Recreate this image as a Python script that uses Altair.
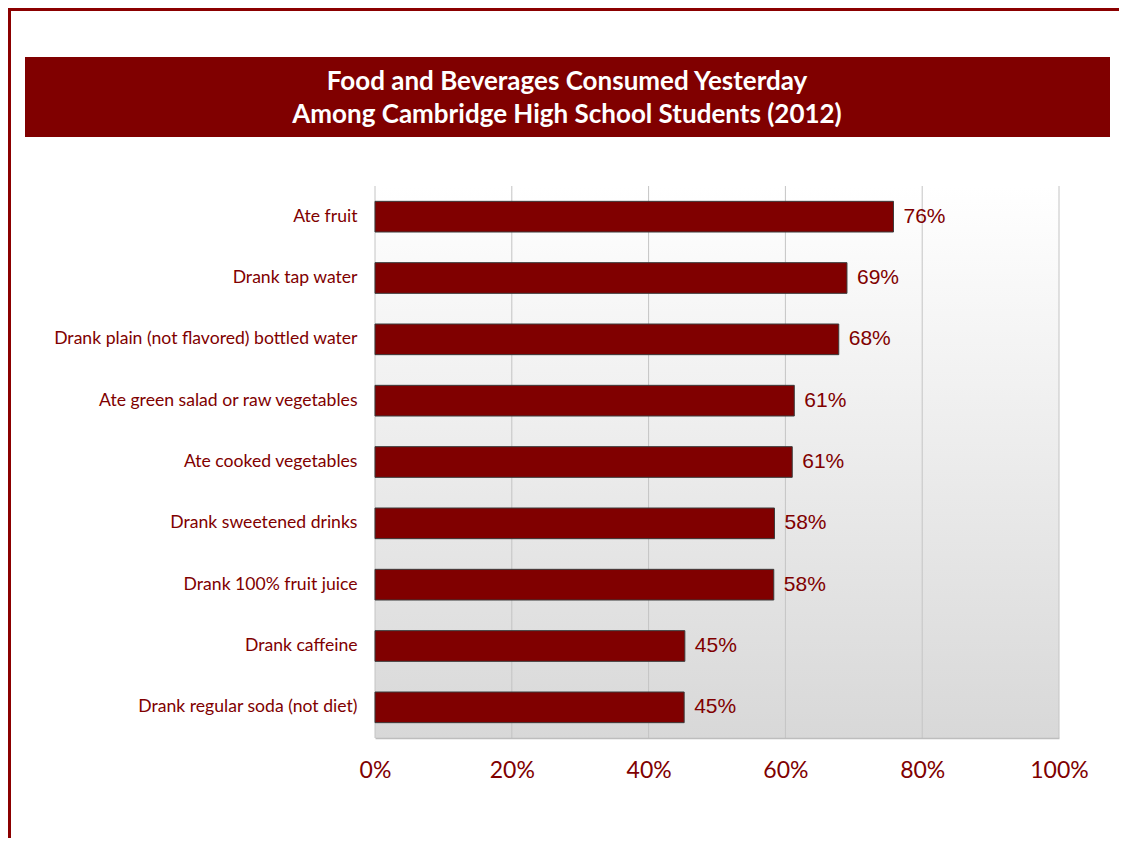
import altair as alt
import pandas as pd

categories = [
    "Ate fruit",
    "Drank tap water",
    "Drank plain (not flavored) bottled water",
    "Ate green salad or raw vegetables",
    "Ate cooked vegetables",
    "Drank sweetened drinks",
    "Drank 100% fruit juice",
    "Drank caffeine",
    "Drank regular soda (not diet)",
]
values = [75.8, 69.0, 67.8, 61.3, 61.0, 58.4, 58.3, 45.3, 45.2]
x_ticks = [0, 20, 40, 60, 80, 100]
title_lines = [
    "Food and Beverages Consumed Yesterday",
    "Among Cambridge High School Students (2012)",
]

W, H = 684, 552
DARK = "#800000"

df = pd.DataFrame({"category": categories, "value": values})
ticks_df = pd.DataFrame({"value": x_ticks})
one = pd.DataFrame({"k": [0]})

xscale = alt.Scale(domain=[0, 100], nice=False)
yscale = alt.Scale(paddingInner=0.5, paddingOuter=0.25)

xaxis = alt.Axis(
    values=x_ticks,
    labelExpr="datum.value + '%'",
    title=None,
    grid=False,
    ticks=False,
    domain=True,
    domainColor="#BDBDBD",
    domainWidth=1.5,
    labelFont="Lato",
    labelFontSize=23,
    labelColor=DARK,
    labelPadding=21,
    labelFlush=False,
    labelAlign="center",
    labelOverlap=False,
    zindex=1,
)
yaxis = alt.Axis(
    title=None,
    domain=False,
    ticks=False,
    tickSize=0,
    grid=False,
    labelFont="Lato",
    labelFontSize=17.6,
    labelColor=DARK,
    labelPadding=18,
    labelLimit=500,
)

# gradient background of plot area
bg = alt.Chart(one).mark_rect(
    fill=alt.Gradient(
        gradient="linear",
        stops=[alt.GradientStop(color="#FFFFFF", offset=0),
               alt.GradientStop(color="#D8D8D8", offset=1)],
        x1=0, x2=0, y1=0, y2=1,
    ),
    stroke=None,
).encode(x=alt.value(0), x2=alt.value(W), y=alt.value(0), y2=alt.value(H))

grid = alt.Chart(ticks_df).mark_rule(color="#C4C4C4", strokeWidth=1).encode(
    x=alt.X("value:Q", scale=xscale, axis=xaxis),
    y=alt.value(0),
    y2=alt.value(H),
)

bars = alt.Chart(df).mark_bar(
    color=DARK, stroke="#3A3A3A", strokeWidth=1
).encode(
    x=alt.X("value:Q", scale=xscale, axis=xaxis),
    y=alt.Y("category:N", sort=None, scale=yscale, axis=yaxis),
)

labels = alt.Chart(df).transform_calculate(
    label="format(datum.value, '.0f') + '%'"
).mark_text(
    align="left", baseline="middle", dx=10,
    font="Liberation Sans", fontSize=21, color=DARK,
).encode(
    x=alt.X("value:Q", scale=xscale, axis=xaxis),
    y=alt.Y("category:N", sort=None, scale=yscale, axis=yaxis),
    text="label:N",
)

banner = alt.Chart(one).mark_rect(fill=DARK, stroke=None).encode(
    x=alt.value(-350), x2=alt.value(735), y=alt.value(-129), y2=alt.value(-49)
)
t1 = alt.Chart(one).mark_text(
    text=title_lines[0], font="Lato", fontWeight="bold", fontSize=26,
    color="white", align="center", baseline="middle",
).encode(x=alt.value(192), y=alt.value(-104))
t2 = alt.Chart(one).mark_text(
    text=title_lines[1], font="Lato", fontWeight="bold", fontSize=26,
    color="white", align="center", baseline="middle",
).encode(x=alt.value(192), y=alt.value(-71))

border_top = alt.Chart(one).mark_rule(color="#8B0000", strokeWidth=3).encode(
    x=alt.value(-367), x2=alt.value(753), y=alt.value(-176.5)
)
border_left = alt.Chart(one).mark_rule(color="#8B0000", strokeWidth=3).encode(
    x=alt.value(-365.5), y=alt.value(-178), y2=alt.value(660)
)

chart = alt.layer(
    bg, grid, bars, labels, banner, t1, t2, border_top, border_left
).properties(
    width=W,
    height=H,
    autosize=alt.AutoSizeParams(type="none"),
    padding={"left": 367, "top": 178, "right": 60, "bottom": 100},
    background="white",
).configure_view(stroke=None)

chart.save("out.html", embed_options={"renderer": "svg", "actions": False})
